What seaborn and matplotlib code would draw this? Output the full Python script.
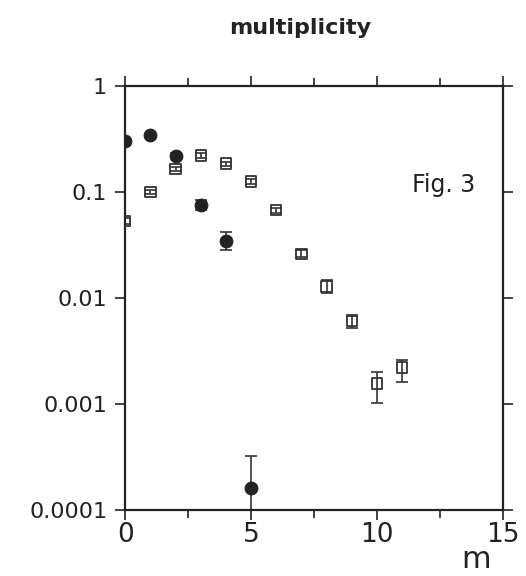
"""Multiplicity distribution, log scale (Fig. 3)."""
import matplotlib
matplotlib.use("Agg")
import matplotlib.pyplot as plt
import matplotlib.ticker as mticker
import pandas as pd
import seaborn as sns

# filled circles
m_dots = [0, 1, 2, 3, 4, 5]
p_dots = [0.30, 0.34, 0.22, 0.075, 0.034, 0.00016]
lo_dots = [0.01, 0.01, 0.01, 0.008, 0.006, 0.00006]
hi_dots = [0.01, 0.01, 0.01, 0.008, 0.008, 0.00016]

# open squares
m_sq = [0, 1, 2, 3, 4, 5, 6, 7, 8, 9, 10, 11]
p_sq = [0.053, 0.10, 0.165, 0.22, 0.185, 0.125, 0.067, 0.026, 0.0128, 0.0060, 0.00155, 0.0022]
lo_sq = [0.003, 0.005, 0.008, 0.01, 0.008, 0.006, 0.004, 0.002, 0.0018, 0.0008, 0.00053, 0.0006]
hi_sq = [0.003, 0.005, 0.008, 0.01, 0.008, 0.006, 0.004, 0.002, 0.0020, 0.0009, 0.00045, 0.0004]

x_ticks = [0, 5, 10, 15]
y_ticks = [1e-4, 1e-3, 1e-2, 1e-1, 1]
y_labels = ["0.0001", "0.001", "0.01", "0.1", "1"]

sns.set_style("ticks")
plt.rcParams["font.family"] = ["DejaVu Sans"]

fig = plt.figure(figsize=(5.26, 5.76), dpi=100)
ax = fig.add_axes([0.238, 0.115, 0.718, 0.736])

df_sq = pd.DataFrame({"m": m_sq, "p": p_sq})
df_dots = pd.DataFrame({"m": m_dots, "p": p_dots})

ax.errorbar(m_sq, p_sq, yerr=[lo_sq, hi_sq], fmt="none", ecolor="#333333",
            elinewidth=1.2, capsize=4, capthick=1.2, zorder=2)
ax.errorbar(m_dots, p_dots, yerr=[lo_dots, hi_dots], fmt="none", ecolor="#333333",
            elinewidth=1.2, capsize=4, capthick=1.2, zorder=2)
sns.scatterplot(data=df_sq, x="m", y="p", marker="s", s=55, facecolor="none",
                edgecolor="#333333", linewidth=1.3, ax=ax, zorder=3)
sns.scatterplot(data=df_dots, x="m", y="p", marker="o", s=85, color="#222222",
                edgecolor="#222222", ax=ax, zorder=4)

ax.set_yscale("log")
ax.set_xlim(0, 15)
ax.set_ylim(1e-4, 1)
ax.set_xticks(x_ticks)
ax.set_xticklabels([str(t) for t in x_ticks])
ax.xaxis.set_minor_locator(mticker.MultipleLocator(2.5))
ax.set_yticks(y_ticks)
ax.set_yticklabels(y_labels)
ax.yaxis.set_minor_locator(mticker.NullLocator())
ax.tick_params(axis="both", which="both", direction="out", top=True, right=True,
               colors="#222222", width=1.2)
ax.tick_params(axis="y", labelsize=16, pad=6)
ax.tick_params(axis="x", labelsize=19, pad=2)
ax.tick_params(axis="both", which="major", length=7)
ax.tick_params(axis="x", which="minor", length=6)
for s in ax.spines.values():
    s.set_linewidth(1.6)
    s.set_color("#222222")

ax.set_xlabel("")
ax.set_ylabel("")
fig.text(0.57, 0.951, "multiplicity", ha="center", va="center", fontsize=16,
         color="#222222", fontweight="bold")
ax.text(13.9, 0.115, "Fig. 3", ha="right", va="center", fontsize=17, color="#222222")
fig.text(0.905, 0.028, "m", ha="center", va="center", fontsize=22, color="#222222")

fig.savefig("out.png", dpi=100)
plt.close(fig)
